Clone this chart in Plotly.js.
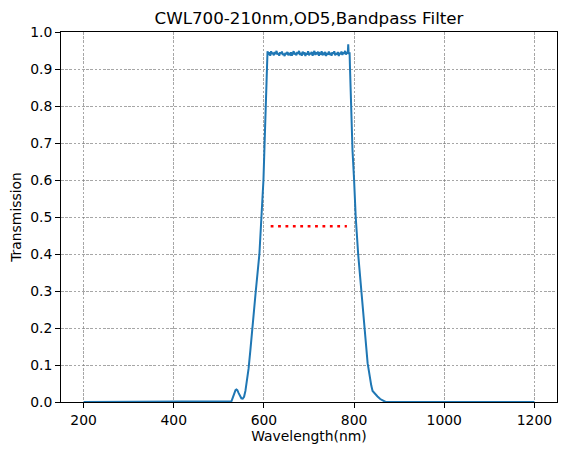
<!DOCTYPE html>
<html>
<head>
<meta charset="utf-8">
<script src="https://cdn.plot.ly/plotly-3.0.1.min.js"></script>
<style>html,body{margin:0;padding:0;background:#fff;}#chart{width:567px;height:455px;}</style>
</head>
<body>
<div id="chart"></div>
<script>
// Wavelength (nm) sample points of the filter curve
const wavelength = [
  200, 525, 528, 531, 534, 537, 539, 541, 544, 547, 550, 553, 556, 559, 562, 566, 570, 575, 582, 590, 595, 599, 601, 604, 607, 608,
  610, 612, 614, 616, 618, 620, 622, 624, 626, 628, 630, 632, 634, 636, 638, 640, 642, 644, 646, 648,
  650, 652, 654, 656, 658, 660, 662, 664, 666, 668, 670, 672, 674, 676, 678, 680, 682, 684, 686, 688,
  690, 692, 694, 696, 698, 700, 702, 704, 706, 708, 710, 712, 714, 716, 718, 720, 722, 724, 726, 728,
  730, 732, 734, 736, 738, 740, 742, 744, 746, 748, 750, 752, 754, 756, 758, 760, 762, 764, 766, 768,
  770, 772, 774, 776, 778, 780, 782, 784, 786, 787, 788, 790, 791, 793, 796.5, 800, 803.6, 809, 815.6,
  822, 827.5, 830, 834, 838, 841, 846, 852, 858, 864, 870, 1200
];
// Transmission values
const transmission = [
  0, 0, 0.002, 0.012, 0.024, 0.032, 0.034, 0.032, 0.024, 0.015, 0.010, 0.009, 0.014, 0.030, 0.055, 0.090, 0.140, 0.200, 0.300, 0.400, 0.500, 0.600, 0.680, 0.800, 0.920, 0.948,
  0.938, 0.945, 0.936, 0.948, 0.941, 0.944, 0.937, 0.946, 0.940, 0.949, 0.939, 0.943, 0.936, 0.945, 0.941, 0.947, 0.938, 0.942, 0.935, 0.944,
  0.940, 0.946, 0.937, 0.941, 0.939, 0.945, 0.936, 0.943, 0.948, 0.939, 0.944, 0.937, 0.946, 0.941, 0.949, 0.938, 0.944, 0.936, 0.947, 0.940,
  0.945, 0.935, 0.943, 0.939, 0.948, 0.937, 0.944, 0.940, 0.946, 0.936, 0.943, 0.949, 0.938, 0.945, 0.940, 0.947, 0.936, 0.942, 0.939, 0.948,
  0.937, 0.944, 0.941, 0.946, 0.935, 0.943, 0.939, 0.947, 0.938, 0.944, 0.936, 0.945, 0.941, 0.948, 0.937, 0.943, 0.939, 0.946, 0.935, 0.944,
  0.940, 0.947, 0.938, 0.945, 0.941, 0.949, 0.939, 0.946, 0.942, 0.967, 0.940, 0.945, 0.900, 0.800, 0.680, 0.600, 0.500, 0.400, 0.300,
  0.200, 0.140, 0.105, 0.068, 0.045, 0.030, 0.022, 0.015, 0.008, 0.003, 0, 0
];
// Half-level marker line
const markerX = [615, 784];
const markerY = [0.475, 0.475];

const xTicks = [200, 400, 600, 800, 1000, 1200];
const yTicks = [0, 0.1, 0.2, 0.3, 0.4, 0.5, 0.6, 0.7, 0.8, 0.9, 1.0];

const font = 'DejaVu Sans, sans-serif';

const traces = [
  {x: wavelength, y: transmission, type: 'scatter', mode: 'lines',
   line: {color: '#1f77b4', width: 2}, hoverinfo: 'skip'},
  {x: markerX, y: markerY, type: 'scatter', mode: 'lines',
   line: {color: 'red', width: 2.7, dash: '2.8px,4.6px'}, hoverinfo: 'skip'}
];

const axisCommon = {
  showline: true, linecolor: 'black', linewidth: 1, mirror: true,
  ticks: 'outside', ticklen: 5, tickwidth: 1, tickcolor: 'black',
  showgrid: true, gridcolor: 'gray', gridwidth: 0.7, griddash: '2.6px,1.6px',
  zeroline: false, tickfont: {family: font, size: 13.9, color: 'black'}
};

const layout = {
  width: 567, height: 455,
  margin: {l: 61, r: 10, t: 32, b: 53, pad: 0},
  paper_bgcolor: 'white', plot_bgcolor: 'white',
  showlegend: false,
  title: {text: 'CWL700-210nm,OD5,Bandpass Filter', font: {family: font, size: 16.7, color: 'black'},
          x: 0.5, xref: 'paper', y: 1 - 18/455, yref: 'container', yanchor: 'middle'},
  xaxis: Object.assign({}, axisCommon, {
    range: [150, 1250], tickvals: xTicks, ticktext: xTicks.map(String),
    title: {text: 'Wavelength(nm)', font: {family: font, size: 13.9, color: 'black'}, standoff: 4}
  }),
  yaxis: Object.assign({}, axisCommon, {
    range: [0, 1], tickvals: yTicks, ticktext: yTicks.map(v => v.toFixed(1)),
    title: {text: 'Transmission', font: {family: font, size: 13.9, color: 'black'}, standoff: 5}
  })
};

Plotly.newPlot('chart', traces, layout, {displayModeBar: false, staticPlot: true});
</script>
</body>
</html>
